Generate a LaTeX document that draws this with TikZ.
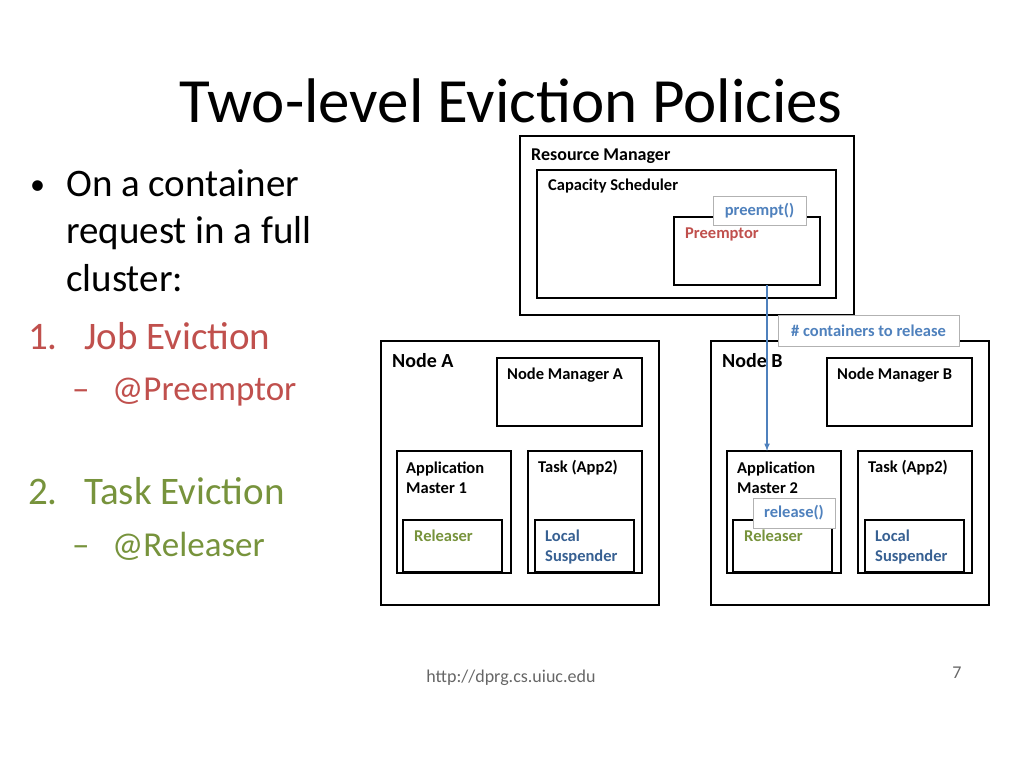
\documentclass[tikz,border=0pt]{standalone}
\usepackage{fontspec}
\setmainfont{Carlito}
\definecolor{cred}{HTML}{C0504D}
\definecolor{cgreen}{HTML}{77933C}
\definecolor{cblue}{HTML}{4F81BD}
\definecolor{tblue}{HTML}{376092}
\begin{document}
\begin{tikzpicture}[x=1pt,y=-1pt,
 box/.style={draw=black,line width=2pt},
 lbl/.style={anchor=west,inner sep=0pt,font=\fontsize{18}{20}\selectfont\bfseries},
 sm/.style={anchor=west,inner sep=0pt,font=\fontsize{16.5}{20}\selectfont\bfseries,align=left},
 tag/.style={draw=black!30,fill=white,line width=0.7pt,text=cblue,font=\fontsize{16.5}{18}\selectfont\bfseries,inner sep=0pt},
 big/.style={anchor=base west,inner sep=0pt,font=\fontsize{39}{44}\selectfont}]
\useasboundingbox (0,0) rectangle (1024,768);
\node[inner sep=0pt,font=\fontsize{63}{70}\selectfont] (title) at (511,101) {Two-level Eviction Policies};
% left text
\node[big,font=\fontsize{30}{34}\selectfont] (b0) at (30,194) {•};
\node[big] (l1) at (66,196) {On a container};
\node[big] (l2) at (66,243) {request in a full};
\node[big] (l3) at (66,291) {cluster:};
\node[big,text=cred] (n1) at (28,349) {1.};
\node[big,text=cred] (j) at (84,349) {Job Eviction};
\node[big,text=cred,font=\fontsize{35}{40}\selectfont] (d1) at (72,400) {–};
\node[big,text=cred,font=\fontsize{35}{40}\selectfont] (p) at (112,400) {@Preemptor};
\node[big,text=cgreen] (n2) at (28,504) {2.};
\node[big,text=cgreen] (t) at (84,504) {Task Eviction};
\node[big,text=cgreen,font=\fontsize{35}{40}\selectfont] (d2) at (72,556) {–};
\node[big,text=cgreen,font=\fontsize{35}{40}\selectfont] (r) at (112,556) {@Releaser};
% RM
\draw[box] (520,136) rectangle (854,315);
\node[lbl] (rm) at (531,156) {Resource Manager};
\draw[box] (537,170) rectangle (836,298);
\node[sm] (cs) at (548,186) {Capacity Scheduler};
\draw[box] (674,217) rectangle (820,285);
\coordinate (pre) at (767,285);
\node[sm,text=cred] (prel) at (685,234) {Preemptor};
\node[tag,minimum width=93pt,minimum height=29pt] (pt) at (759.5,210.5) {preempt()};
% Node A and B
\foreach \n/\ox in {A/0,B/330}{
 \begin{scope}[xshift=\ox]
 \draw[box] (381,341) rectangle (659,605);
 \node[lbl,font=\fontsize{20}{22}\selectfont\bfseries] (node\n) at (392,361) {Node \n};
 \draw[box] (497,358) rectangle (642,426);
 \node[sm] (nm\n) at (507,375) {Node Manager \n};
 \draw[box] (397,451) rectangle (511,573);
 \draw[box] (403,520) rectangle (502,572);
 \node[sm,text=cgreen] (rel\n) at (414,536) {Releaser};
 \draw[box] (528,451) rectangle (642,573);
 \node[sm] (task\n) at (538,468) {Task (App2)};
 \draw[box] (535,520) rectangle (634,572);
 \node[sm,text=tblue] (ls\n) at (545,546.5) {Local\\Suspender};
 \end{scope}}
\node[sm] (am1) at (406,478) {Application\\Master 1};
\node[sm] (am2) at (737,478) {Application\\Master 2};
\coordinate (amtop) at (767,451);
\draw[cblue,line width=1.5pt,-{latex}] (pre) -- (amtop);
\node[tag,minimum width=181pt,minimum height=31pt] (ctr) at (868.5,330.5) {\# containers to release};
\node[tag,minimum width=82pt,minimum height=30pt] (rl) at (794,513) {release()};
\node[inner sep=0pt,text=black!60,font=\fontsize{18}{20}\selectfont] (url) at (511,678) {http://dprg.cs.uiuc.edu};
\node[inner sep=0pt,text=black!60,font=\fontsize{18}{20}\selectfont] (pg) at (957,673) {7};
\end{tikzpicture}
\end{document}
